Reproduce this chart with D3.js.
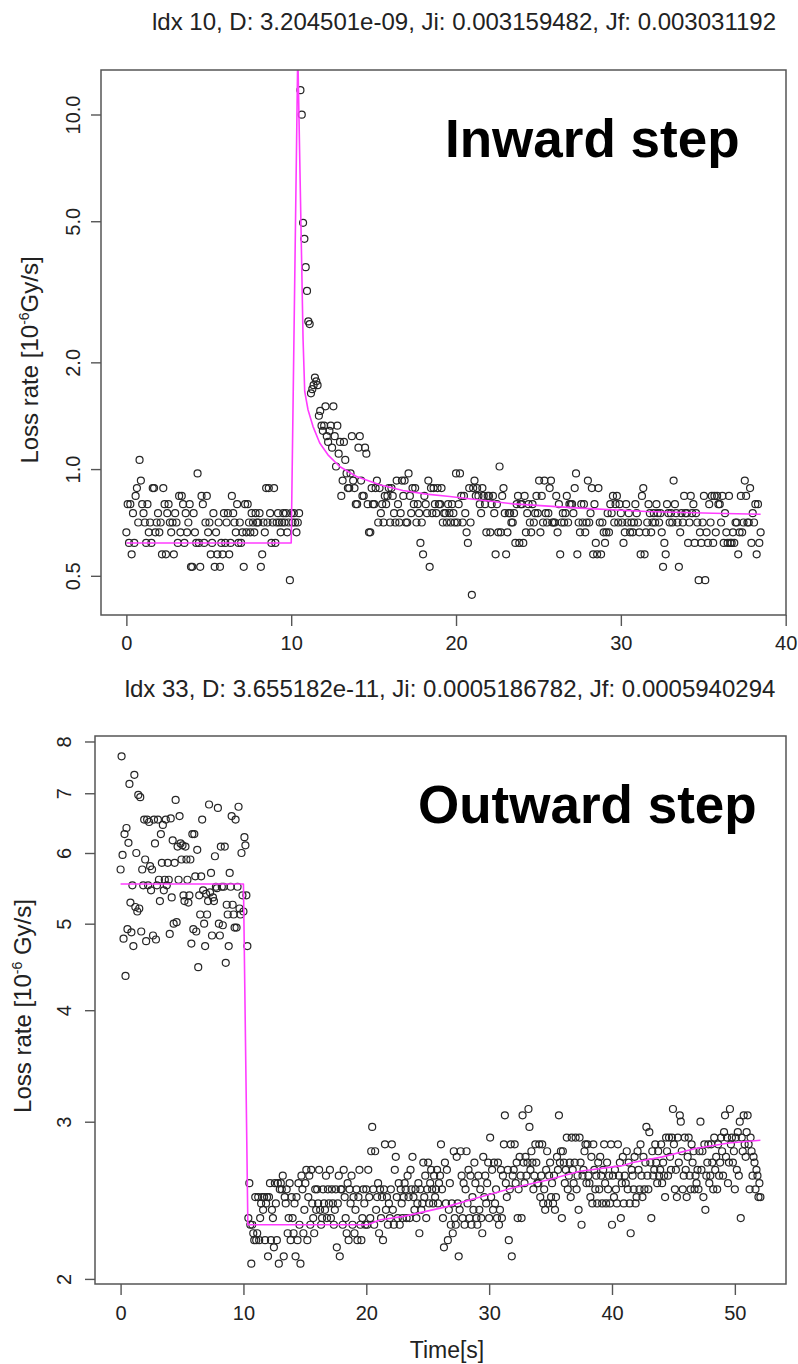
<!DOCTYPE html>
<html>
<head>
<meta charset="utf-8">
<script src="https://cdn.jsdelivr.net/npm/d3@7"></script>
<style>
  html, body { margin: 0; padding: 0; background: #fff; }
  svg { display: block; }
</style>
</head>
<body>
<svg id="chart" width="798" height="1364"></svg>
<script>
// Loss-rate samples are logged at a fixed interval (s)
const SAMPLE_STEP = 0.08;

// ---- Inward step: loss rate [1e-6 Gy/s], one value per sample ----
const inwardRate = [
  .663,.796,.619,.796,.575,.751,.619,.840,.884,.707,1.061,.928,.796,
  .751,.707,.619,.796,.663,.707,.619,.884,.884,.663,.707,.751,
  .663,.707,.575,.884,.796,.575,.751,.796,.707,.663,.707,.575,.751,
  .707,.619,.840,.663,.840,.796,.619,.751,.663,.707,.796,.530,
  .530,.751,.663,.619,.972,.619,.530,.840,.796,.619,.707,.840,.663,
  .707,.575,.619,.751,.530,.663,.575,.707,.530,.619,.575,.751,
  .619,.707,.751,.575,.619,.840,.751,.707,.663,.796,.619,.707,.619,
  .663,.530,.796,.663,.796,.707,.663,.751,.707,.663,.751,.707,
  .707,.751,.530,.575,.707,.663,.884,.707,.884,.751,.619,.707,.884,
  .619,.707,.751,.707,.663,.707,.751,.707,.751,.663,.707,.486,
  .751,.707,.751,.707,.663,.707,.751,11.71,9.99,4.95,4.46,3.71,3.18,
  2.608,2.564,1.635,1.680,1.724,1.812,1.768,1.724,1.414,1.459,1.326,1.282,
  1.326,1.503,1.238,1.193,1.282,1.326,1.149,1.503,1.238,1.017,1.326,1.105,1.193,
  .840,.928,1.193,1.061,.972,.884,.884,.972,1.238,.928,.884,.796,
  .796,1.149,1.238,.928,.840,.840,1.149,1.105,.796,.663,.663,.884,.796,
  .796,.884,.928,.707,.884,.751,.796,.707,.840,.796,.840,.884,
  .707,.884,.840,.751,.707,.928,.796,.707,.751,.928,.840,.928,.707,
  .707,.972,.840,.751,.884,.796,.884,.707,.796,.751,.619,.707,
  .575,.840,.796,.751,.928,.530,.884,.751,.884,.796,.751,.884,.796,
  .796,.884,.707,.751,.751,.707,.796,.751,.707,.796,.751,.707,
  .972,.707,.796,.972,.840,.707,.840,.751,.663,.619,.884,.707,.442,
  .884,.928,.840,.884,.840,.796,.751,.884,.840,.796,.663,.840,
  .840,.663,.796,.840,.751,.575,.796,.663,1.017,.663,.840,.884,.751,
  .575,.663,.751,.751,.707,.707,.751,.619,.796,.840,.619,.796,
  .796,.619,.840,.663,.751,.796,.707,.663,.796,.707,.751,.840,.751,
  .928,.663,.840,.707,.928,.751,.707,.751,.884,.928,.707,.707,
  .707,.840,.663,.796,.575,.707,.751,.707,.751,.840,.707,.796,.796,
  .796,.751,.884,.972,.575,.707,.663,.796,.707,.796,.663,.707,
  .928,.707,.751,.884,.575,.796,.619,.575,.884,.707,.575,.707,.663,
  .619,.663,.751,.663,.796,.751,.840,.707,.796,.840,.707,.796,
  .751,.707,.619,.663,.796,.707,.751,.663,.707,.663,.707,.796,.751,
  .707,.663,.575,.840,.884,.575,.663,.707,.796,.751,.663,.707,
  .751,.707,.796,.751,.707,.751,.663,.530,.619,.575,.796,.751,.707,
  .751,.707,.928,.796,.751,.707,.530,.663,.751,.707,.840,.751,
  .751,.619,.707,.840,.751,.796,.619,.751,.707,.486,.663,.619,.707,
  .840,.486,.663,.619,.796,.707,.840,.619,.840,.663,.840,.796,
  .796,.707,.840,.619,.751,.663,.619,.840,.619,.619,.663,.619,.707,
  .707,.575,.663,.840,.663,.707,.928,.840,.707,.707,.884,.619,
  .751,.707,.796,.575,.796,.619,.663
];
// Fitted model curve (time [s], rate)
const inwardFitTime = [0, 10.0, 10.4, 10.72, 10.82, 11.02, 11.32, 11.73, 12.23, 12.94, 13.96, 15.37, 16.78, 18.2, 19.62, 23.46, 27.5, 31.55, 35.6, 38.48];
const inwardFitRate = [0.619, 0.619, 15.0, 2.32, 1.656, 1.47, 1.32, 1.184, 1.097, 1.017, 0.953, 0.903, 0.870, 0.850, 0.837, 0.798, 0.776, 0.759, 0.751, 0.746];
const inwardXTicks = [0, 10, 20, 30, 40];
const inwardYTicks = [0.5, 1, 2, 5, 10];
const inwardYTickLabels = ["0.5", "1.0", "2.0", "5.0", "10.0"];
const inwardTitle = "ldx 10, D: 3.204501e-09, Ji: 0.003159482, Jf: 0.003031192";
const inwardTag = "Inward step";

// ---- Outward step ----
const outwardRate = [
  5.75,7.70,5.97,4.81,6.30,4.37,6.40,4.93,6.16,7.17,5.28,4.89,5.52,
  4.72,7.34,5.22,6.00,5.16,6.97,5.20,6.93,4.90,5.75,5.52,6.54,
  5.90,4.78,6.54,5.52,6.50,5.80,5.45,5.75,4.85,6.54,6.15,4.80,5.52,
  6.54,5.60,5.30,6.30,5.85,6.45,5.45,5.60,6.54,5.52,5.85,5.60,
  4.87,6.56,5.35,6.20,5.00,5.85,6.88,5.02,6.10,5.60,6.60,6.15,5.90,
  6.12,5.38,5.30,6.10,5.90,5.60,5.28,5.38,5.90,4.75,6.30,4.93,
  6.30,5.65,4.90,6.05,4.47,5.38,5.12,5.65,6.54,5.45,5.00,4.72,5.40,
  5.12,5.30,6.80,5.42,5.70,4.85,5.35,5.30,5.95,5.50,5.48,6.74,
  5.00,4.85,6.10,5.50,4.98,5.50,6.10,4.52,5.25,5.12,4.72,5.70,5.50,
  6.60,5.25,5.12,4.95,6.54,4.95,5.50,6.76,5.20,5.12,6.00,5.38,
  5.16,6.25,6.12,5.38,4.72,2.34,2.56,2.30,2.08,2.30,2.25,2.21,2.47,
  2.21,2.25,2.47,2.21,2.34,2.43,2.47,2.39,2.47,2.21,2.43,2.47,
  2.12,2.47,2.56,2.21,2.39,2.34,2.17,2.56,2.43,2.21,2.56,2.08,2.52,
  2.56,2.52,2.61,2.12,2.47,2.43,2.52,2.25,2.34,2.56,2.21,2.47,
  2.34,2.25,2.43,2.12,2.47,2.21,2.56,2.30,2.08,2.61,2.52,2.25,2.39,
  2.56,2.65,2.21,2.47,2.61,2.30,2.65,2.43,2.34,2.25,2.52,2.39,
  2.52,2.43,2.65,2.39,2.30,2.34,2.52,2.43,2.39,2.61,2.34,2.52,2.43,
  2.65,2.34,2.52,2.43,2.30,2.39,2.52,2.17,2.43,2.61,2.12,2.52,
  2.52,2.30,2.65,2.47,2.34,2.25,2.56,2.21,2.52,2.43,2.61,2.30,2.47,
  2.25,2.39,2.52,2.21,2.47,2.65,2.30,2.21,2.34,2.52,2.43,2.30,
  2.52,2.30,2.65,2.47,2.34,2.78,2.96,2.52,2.30,2.78,2.39,2.47,2.56,
  2.25,2.52,2.34,2.47,2.21,2.52,2.83,2.39,2.47,2.30,2.43,2.34,
  2.52,2.83,2.39,2.30,2.65,2.74,2.47,2.34,2.56,2.30,2.52,2.43,2.34,
  2.47,2.56,2.52,2.34,2.61,2.47,2.34,2.65,2.52,2.74,2.47,2.39,
  2.52,2.34,2.43,2.56,2.25,2.52,2.39,2.43,2.70,2.47,2.61,2.34,2.52,
  2.70,2.43,2.56,2.65,2.52,2.43,2.61,2.47,2.52,2.65,2.43,2.56,
  2.61,2.83,2.52,2.34,2.17,2.70,2.43,2.65,2.21,2.39,2.56,2.30,2.43,
  2.25,2.78,2.34,2.30,2.74,2.43,2.12,2.39,2.78,2.61,2.34,2.56,
  2.30,2.52,2.78,2.43,2.65,2.34,2.61,2.30,2.47,2.39,2.70,2.56,2.34,
  2.30,2.61,2.39,2.52,2.34,2.25,2.74,2.47,2.61,2.43,2.56,2.70,
  2.34,2.88,2.47,2.65,2.39,2.70,2.43,2.52,2.34,2.70,2.30,2.39,2.65,
  2.34,2.61,2.83,3.05,2.56,2.47,2.65,2.21,2.52,2.83,2.12,2.61,
  2.65,2.83,2.56,2.70,2.34,2.52,2.74,2.61,2.34,3.05,2.70,2.56,2.74,
  2.61,2.70,3.10,2.96,2.65,2.78,2.70,2.52,2.61,2.83,2.70,2.56,
  2.56,2.83,2.47,2.61,2.83,2.43,2.52,2.39,2.65,2.78,2.43,2.61,2.70,
  2.47,2.56,2.43,2.61,2.39,2.47,2.74,2.65,3.05,2.70,2.78,2.34,
  2.78,2.70,2.56,2.65,2.88,2.52,2.61,2.70,2.47,2.88,2.65,2.56,2.70,
  2.88,2.52,2.61,2.39,2.88,2.70,2.30,2.61,2.65,2.78,2.83,2.56,
  2.83,2.61,2.56,2.47,2.74,2.43,2.83,2.65,2.52,2.61,2.43,2.70,2.52,
  2.74,2.61,2.43,2.65,2.83,2.56,2.43,2.70,2.52,2.61,2.43,2.83,
  2.30,2.61,2.47,2.65,2.52,2.43,2.83,2.61,2.70,2.34,2.56,2.74,2.43,
  2.61,2.56,2.78,2.52,2.70,2.43,2.25,2.65,2.61,2.52,2.74,2.43,
  2.47,2.78,2.65,2.52,2.83,2.61,2.47,2.74,2.52,2.70,2.96,2.61,2.52,
  2.92,2.70,2.34,2.78,2.61,2.65,2.83,2.70,2.56,2.78,2.61,2.65,
  2.83,2.56,2.70,2.61,2.47,2.88,2.78,2.61,2.88,2.74,2.65,2.88,3.10,
  2.83,2.52,2.65,2.47,2.88,2.70,3.05,3.00,2.78,2.52,2.61,2.88,
  2.65,2.47,2.74,2.88,2.61,2.52,2.83,2.70,2.78,2.52,2.61,2.56,2.65,
  2.52,2.78,3.00,2.65,2.78,2.47,2.83,2.39,2.61,2.70,2.83,2.56,
  2.61,2.83,2.70,2.52,2.88,2.65,2.74,2.52,2.83,2.61,2.70,2.88,2.78,
  2.61,2.92,3.05,2.74,2.88,2.56,2.70,3.10,2.83,2.88,2.70,2.78,
  2.52,2.88,2.65,2.92,2.61,3.00,2.34,2.88,2.78,3.05,2.83,2.74,2.92,
  3.05,2.83,2.52,2.88,2.78,2.61,2.74,2.70,2.52,2.65,2.61,2.47,
  2.56,2.47
];
const outwardFitTime = [0, 10.0, 10.36, 20.1, 21.16, 23.05, 26.57, 29.27, 31.97, 34.68, 37.38, 40.08, 40.9, 41.7, 44.1, 46.8, 49.5, 52.08];
const outwardFitRate = [5.54, 5.54, 2.30, 2.30, 2.33, 2.35, 2.41, 2.47, 2.53, 2.58, 2.64, 2.67, 2.68, 2.70, 2.74, 2.80, 2.84, 2.86];
const outwardXTicks = [0, 10, 20, 30, 40, 50];
const outwardYTicks = [2, 3, 4, 5, 6, 7, 8];
const outwardYTickLabels = ["2", "3", "4", "5", "6", "7", "8"];
const outwardTitle = "ldx 33, D: 3.655182e-11, Ji: 0.0005186782, Jf: 0.0005940294";
const outwardTag = "Outward step";

const FONT = "'Liberation Sans', Arial, Helvetica, sans-serif";
const svg = d3.select("#chart");
svg.append("rect").attr("width", 798).attr("height", 1364).attr("fill", "#fff");

// Axis ranges padded by 4% of the data span, as base R graphics does
function padLinear([a, b]) { const d = (b - a) * 0.04; return [a - d, b + d]; }
function padLog([a, b]) {
  const la = Math.log10(a), lb = Math.log10(b), d = (lb - la) * 0.04;
  return [Math.pow(10, la - d), Math.pow(10, lb + d)];
}

function drawPanel(p) {
  const time = p.rate.map((_, i) => i * SAMPLE_STEP);
  const x = d3.scaleLinear().domain(padLinear(d3.extent(time))).range([p.box.left, p.box.right]);
  const y = d3.scaleLog().domain(padLog(d3.extent(p.rate))).range([p.box.bottom, p.box.top]);
  const g = svg.append("g");

  g.append("clipPath").attr("id", p.id + "-clip")
    .append("rect")
    .attr("x", p.box.left).attr("y", p.box.top)
    .attr("width", p.box.right - p.box.left).attr("height", p.box.bottom - p.box.top);

  // Samples as open circles
  g.append("g")
    .attr("fill", "none").attr("stroke", "#262626").attr("stroke-width", 1.2)
    .selectAll("circle").data(p.rate).join("circle")
    .attr("cx", (d, i) => x(time[i]))
    .attr("cy", d => y(d))
    .attr("r", 3.5);

  // Fitted curve
  g.append("path")
    .datum(d3.zip(p.fitTime, p.fitRate))
    .attr("clip-path", `url(#${p.id}-clip)`)
    .attr("fill", "none").attr("stroke", "#ff3cff").attr("stroke-width", 1.6)
    .attr("stroke-linejoin", "round")
    .attr("d", d3.line().x(d => x(d[0])).y(d => y(d[1])));

  // Frame
  g.append("rect")
    .attr("x", p.box.left).attr("y", p.box.top)
    .attr("width", p.box.right - p.box.left).attr("height", p.box.bottom - p.box.top)
    .attr("fill", "none").attr("stroke", "#555").attr("stroke-width", 1.5);

  // X axis
  const ax = g.append("g")
    .attr("transform", `translate(0,${p.box.bottom})`)
    .call(d3.axisBottom(x).tickValues(p.xTicks).tickSize(11).tickSizeOuter(0).tickFormat(d3.format("d")));
  ax.select(".domain").remove();
  ax.attr("font-family", FONT).attr("font-size", 20).style("color", "#555");
  ax.selectAll(".tick line").attr("stroke-width", 1.4);
  ax.selectAll(".tick text").attr("y", p.xLabelY - p.box.bottom).attr("dy", 0).attr("fill", "#222");

  // Y axis with labels parallel to the axis
  const ay = g.append("g")
    .attr("transform", `translate(${p.box.left},0)`)
    .call(d3.axisLeft(y).tickValues(p.yTicks).tickSize(10).tickSizeOuter(0).tickFormat((d, i) => p.yTickLabels[i]));
  ay.select(".domain").remove();
  ay.attr("font-family", FONT).attr("font-size", 20).style("color", "#555");
  ay.selectAll(".tick line").attr("stroke-width", 1.4);
  ay.selectAll(".tick text")
    .attr("transform", "rotate(-90)")
    .attr("x", 0).attr("y", p.yLabelX - p.box.left).attr("dy", 0)
    .attr("text-anchor", "middle").attr("fill", "#222");

  // Title line
  g.append("text")
    .attr("x", p.titleX).attr("y", p.titleY)
    .attr("text-anchor", "middle")
    .attr("font-family", FONT).attr("font-size", 24).attr("fill", "#222")
    .text(p.title);

  // Y axis title with superscript exponent
  const yl = g.append("text")
    .attr("transform", `translate(${p.yTitleX},${p.yTitleY}) rotate(-90)`)
    .attr("text-anchor", "middle")
    .attr("font-family", FONT).attr("font-size", 24).attr("fill", "#222");
  yl.append("tspan").text("Loss rate [10");
  yl.append("tspan").attr("dy", -9).attr("font-size", 14).text("-6");
  yl.append("tspan").attr("dy", 9).text(p.unitGap + "Gy/s]");

  // Panel tag
  g.append("text")
    .attr("x", p.tagX).attr("y", p.tagY)
    .attr("font-family", FONT).attr("font-weight", "bold").attr("font-size", 53).attr("fill", "#000")
    .text(p.tag);

  if (p.xTitle) {
    g.append("text")
      .attr("x", p.xTitleX).attr("y", p.xTitleY)
      .attr("text-anchor", "middle")
      .attr("font-family", FONT).attr("font-size", 23).attr("fill", "#222")
      .text(p.xTitle);
  }
}

drawPanel({
  id: "inward",
  rate: inwardRate, fitTime: inwardFitTime, fitRate: inwardFitRate,
  xTicks: inwardXTicks, yTicks: inwardYTicks, yTickLabels: inwardYTickLabels,
  box: { left: 101, right: 786, top: 70, bottom: 615 },
  xLabelY: 650, yLabelX: 80,
  title: inwardTitle, titleX: 464, titleY: 30,
  yTitleX: 38, yTitleY: 360, unitGap: "",
  tag: inwardTag, tagX: 445, tagY: 157
});

drawPanel({
  id: "outward",
  rate: outwardRate, fitTime: outwardFitTime, fitRate: outwardFitRate,
  xTicks: outwardXTicks, yTicks: outwardYTicks, yTickLabels: outwardYTickLabels,
  box: { left: 95, right: 786, top: 736, bottom: 1284 },
  xLabelY: 1320, yLabelX: 71,
  title: outwardTitle, titleX: 450, titleY: 697,
  yTitleX: 31, yTitleY: 1006, unitGap: " ",
  tag: outwardTag, tagX: 418, tagY: 823,
  xTitle: "Time[s]", xTitleX: 447, xTitleY: 1358
});
</script>
</body>
</html>
